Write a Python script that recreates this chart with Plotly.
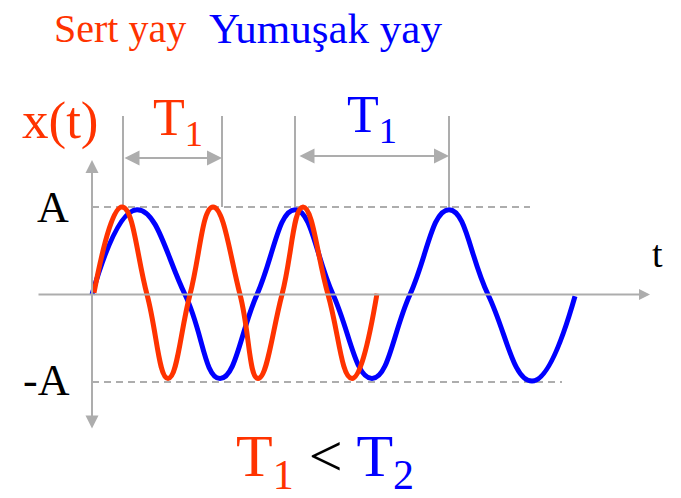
import plotly.graph_objects as go

# ---- data (t in arbitrary time units, x in units of A) ----
soft_t = [0.0, 4.5, 9.3, 12.8, 16.5, 20.3, 24.1, 28.0, 31.8, 35.7, 39.6, 44.0, 48.3]
soft_x = [0.0, 0.97, 0.0, -0.96, 0.0, 0.97, 0.0, -0.96, 0.0, 0.97, 0.0, -0.99, -0.02]

stiff_t = [0.2, 3.0, 5.5, 7.6, 9.8, 12.1, 14.8, 16.6, 19.0, 21.1, 23.6, 26.0, 28.5]
stiff_x = [0.02, 1.0, 0.0, -0.96, 0.0, 1.0, 0.0, -0.96, 0.0, 1.0, 0.0, -0.96, 0.01]

stiff_period_marks = [3.1, 13.0]    # T1 (stiff spring)
soft_period_marks = [20.3, 35.7]    # period of soft spring
amp_line_ends = [43.8, 47.0]        # extent of +A and -A dashed guides

title_stiff = "Sert yay"
title_soft = "Yumuşak yay"

ORANGE = "#FF3300"
BLUE = "#0000FF"
GRAY = "#ADADAD"
FONT = "Liberation Serif, Times New Roman, serif"

W, H = 681, 498

fig = go.Figure()
fig.add_trace(go.Scatter(x=soft_t, y=soft_x, mode="lines",
                         line=dict(color=BLUE, width=5, shape="spline", smoothing=1.3),
                         hoverinfo="skip", showlegend=False))
fig.add_trace(go.Scatter(x=stiff_t, y=stiff_x, mode="lines",
                         line=dict(color=ORANGE, width=5, shape="spline", smoothing=1.3),
                         hoverinfo="skip", showlegend=False))

shapes = []
# dashed amplitude guides
shapes.append(dict(type="line", xref="x", yref="y", x0=0, x1=amp_line_ends[0], y0=1, y1=1,
                   line=dict(color=GRAY, width=2, dash="7px,5px"), layer="below"))
shapes.append(dict(type="line", xref="x", yref="y", x0=0, x1=amp_line_ends[1], y0=-1, y1=-1,
                   line=dict(color=GRAY, width=2, dash="7px,5px"), layer="below"))
# vertical period markers
for t in stiff_period_marks + soft_period_marks:
    shapes.append(dict(type="line", xref="x", yref="y", x0=t, x1=t, y0=1.0, y1=2.04,
                       line=dict(color=GRAY, width=2), layer="below"))

annotations = []
def arrow(x0, y0, x1, y1, size, both=False):
    d = dict(x=x1, y=y1, ax=x0, ay=y0, xref="x", yref="y", axref="x", ayref="y",
             text="", showarrow=True, arrowhead=2, arrowsize=size, arrowwidth=2,
             arrowcolor=GRAY, standoff=0, startstandoff=0)
    if both:
        d.update(arrowside="end+start", startarrowhead=2, startarrowsize=size)
    annotations.append(d)

# axes
arrow(-5.5, 0, 55.8, 0, 1.1)
arrow(0, -1.55, 0, 1.537, 1.3, both=True)
# period arrows
arrow(stiff_period_marks[0], 1.56, stiff_period_marks[1], 1.56, 1.5, both=True)
arrow(soft_period_marks[0] + 0.3, 1.583, soft_period_marks[1], 1.583, 1.5, both=True)

def label(text, px, py, size, color="black"):
    annotations.append(dict(text=text, x=px / W, y=1 - py / H, xref="paper", yref="paper",
                            xanchor="center", yanchor="middle", showarrow=False,
                            font=dict(family=FONT, size=size, color=color)))

label(title_stiff, 120, 28, 40, ORANGE)
label(title_soft, 325, 28, 43, BLUE)
label("x(t)", 60, 120, 53, ORANGE)
label("T<sub>1</sub>", 178, 121, 52, ORANGE)
label("T<sub>1</sub>", 372, 119, 52, BLUE)
label("A", 53, 207, 44)
label("-A", 46, 380, 44)
label("t", 657, 254, 38)
label(f"<span style='color:{ORANGE}'>T<sub>1</sub></span> &lt; "
      f"<span style='color:{BLUE}'>T<sub>2</sub></span>", 325, 460, 60)

fig.update_layout(
    width=W, height=H, autosize=False,
    margin=dict(l=0, r=0, t=0, b=0),
    paper_bgcolor="white", plot_bgcolor="white",
    xaxis=dict(range=[-9.2, 58.9], visible=False, fixedrange=True),
    yaxis=dict(range=[-2.326, 3.366], visible=False, fixedrange=True),
    shapes=shapes, annotations=annotations, showlegend=False,
)

fig.write_html("out.html", config={"displayModeBar": False},
               post_script="document.body.style.margin='0';document.body.style.overflow='hidden';")
